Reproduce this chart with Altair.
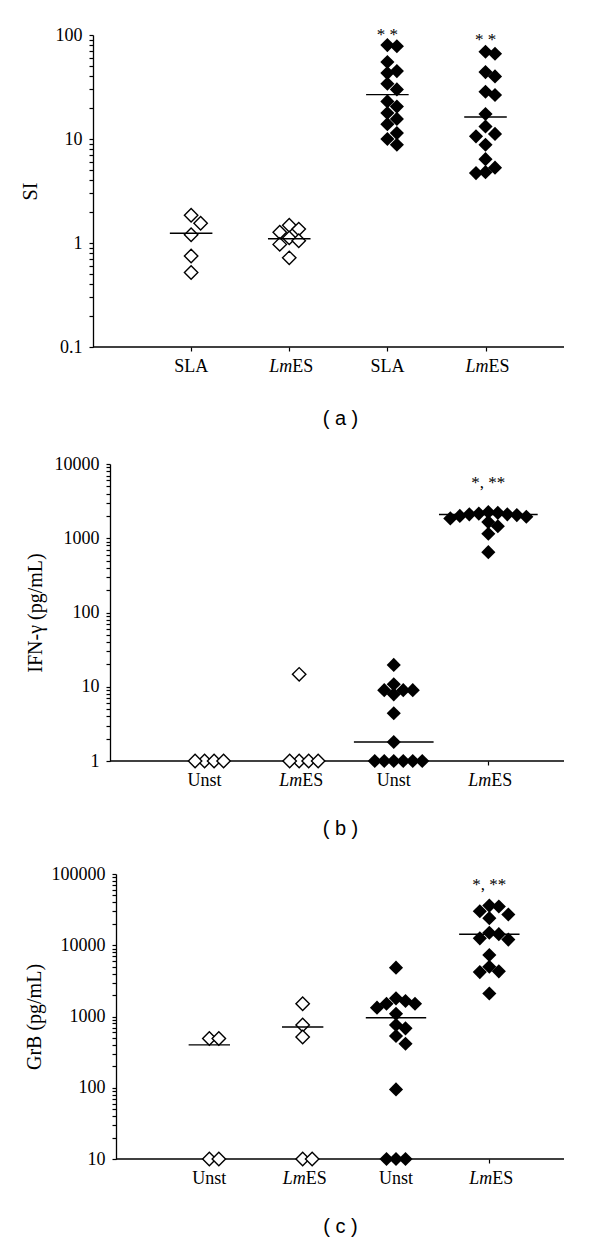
import math
import altair as alt
import pandas as pd

# ---------------- data ----------------
XMAX = 4.8
filled_groups = [False, False, True, True]

# Panel (a): SI
a_categories = ["SLA", "LmES", "SLA", "LmES"]
a_g1 = [1.85, 1.55, 1.2, 0.75, 0.52]
a_g2 = [1.48, 1.36, 1.27, 1.12, 1.05, 0.97, 0.72]
a_g3 = [80, 78, 55, 45, 43, 34, 30, 23, 20.5, 17.8, 15.6, 13.9, 11.4, 10, 8.8]
a_g4 = [69, 66, 44, 40, 28.5, 26.5, 17.4, 13.2, 11.2, 10.6, 8.8, 6.4, 5.3, 4.8, 4.7]
a_medians = [1.24, 1.1, 26.7, 16.3]
a_stars = ["", "", "* *", "* *"]
a_star_values = [None, None, 100, 90]

# Panel (b): IFN-gamma
b_categories = ["Unst", "LmES", "Unst", "LmES"]
b_g1 = [1, 1, 1, 1]
b_g2 = [14.7, 1, 1, 1, 1]
b_g3 = [19.7, 10.8, 9.0, 9.0, 9.0, 7.9, 4.4, 1.8, 1, 1, 1, 1, 1, 1]
b_g4 = [2250, 2200, 2150, 2100, 2100, 2050, 2000, 1950, 1850, 1650, 1450, 1150, 650]
b_medians = [None, None, 1.8, 2090]
b_stars = ["", "", "", "*, **"]
b_star_values = [None, None, None, 5600]

# Panel (c): GrB
c_categories = ["Unst", "LmES", "Unst", "LmES"]
c_g1 = [492, 492, 10, 10]
c_g2 = [1510, 760, 515, 10, 10]
c_g3 = [4850, 1800, 1650, 1510, 1510, 1330, 1090, 760, 682, 532, 414, 94.7, 10, 10, 10]
c_g4 = [36000, 35000, 30000, 27000, 24000, 15000, 14300, 12500, 12000, 7300, 5000, 4300, 4200, 2100]
c_medians = [400, 711, 962, 14300]
c_stars = ["", "", "", "*, **"]
c_star_values = [None, None, None, 71000]

SERIF = "Liberation Serif"
SANS = "Liberation Sans"
PLOT_W = 448          # common plot-area width (shared origin of the stacked panels)


def swarm_offsets(vals, ypix, step_px, min_dy=10):
    order = sorted(range(len(vals)), key=lambda i: -vals[i])
    cand = [0]
    for k in range(1, 15):
        cand += [k, -k]
    placed = []
    out = [0.0] * len(vals)
    for i in order:
        y = ypix(vals[i])
        x = 0
        for k in cand:
            x = k * step_px
            if all(abs(x - px) >= step_px * 0.5 or abs(y - py) >= min_dy for px, py in placed):
                break
        placed.append((x, y))
        out[i] = x
    return out


def log_ticks(lo, hi):
    vals = []
    for k in range(int(round(math.log10(lo))), int(round(math.log10(hi)))):
        for m in range(1, 10):
            vals.append(round(m * 10 ** k, 6))
    vals.append(hi)
    return vals


def panel(groups, cats, medians, stars, star_vals, domain, height,
          ytitle, ptitle, title_pad, ptitle_pad, axis_shift):
    # axis_shift: how far (px) the y-axis sits left of the shared plot origin
    ppu = (PLOT_W + axis_shift) / XMAX
    x_start = axis_shift / ppu
    ppd = height / math.log10(domain[1] / domain[0])
    step_px = 9.5
    pts, meds = [], []
    for gi, vals in enumerate(groups):
        offs = swarm_offsets(vals, lambda v: math.log10(v) * ppd, step_px)
        offs_u = [o / ppu for o in offs]
        for v, o in zip(vals, offs_u):
            pts.append({"x": gi + 1 + o, "v": v, "filled": filled_groups[gi]})
        if medians[gi] is not None:
            half = max(0.21, max(abs(o) for o in offs_u) + 0.12)
            meds.append({"x1": gi + 1 - half, "x2": gi + 1 + half, "m": medians[gi]})
    pts = pd.DataFrame(pts)
    meds = pd.DataFrame(meds)

    lab_center, lab_it, lab_rest = [], [], []
    for gi, c in enumerate(cats):
        if c.startswith("Lm"):
            lab_it.append({"x": gi + 1, "t": "Lm"})
            lab_rest.append({"x": gi + 1, "t": c[2:]})
        else:
            lab_center.append({"x": gi + 1, "t": c})
    star_df = pd.DataFrame([{"x": gi + 1, "t": s, "y": sv}
                            for gi, (s, sv) in enumerate(zip(stars, star_vals)) if s])

    yscale = alt.Scale(type="log", domain=domain, nice=False)
    xscale = alt.Scale(domain=[x_start, XMAX], nice=False, zero=False)

    xaxis = alt.Axis(values=[1, 2, 3, 4], labels=False, tickSize=4, domain=False,
                     title=ptitle, titleFont=SANS, titleFontSize=20,
                     titleFontWeight="normal", titlePadding=ptitle_pad)
    yaxis = alt.Axis(values=log_ticks(domain[0], domain[1]), tickSize=4,
                     labelExpr="abs(log(datum.value)/LN10 - round(log(datum.value)/LN10)) < 0.001 ? format(datum.value, '~r') : ''",
                     labelOverlap=False, labelPadding=7, titlePadding=title_pad,
                     offset=axis_shift, title=ytitle)

    def X(field):
        return alt.X(field, scale=xscale, axis=xaxis)

    def Y(field):
        return alt.Y(field, scale=yscale, axis=yaxis)

    ybase = alt.YDatum(domain[0], scale=yscale, axis=yaxis)

    baseline = alt.Chart(pd.DataFrame({"a": [0.0], "b": [XMAX]})).mark_rule(
        color="black", strokeWidth=1.3
    ).encode(x=X("a:Q"), x2="b:Q", y=ybase)
    open_pts = alt.Chart(pts).transform_filter("!datum.filled").mark_point(
        shape="diamond", filled=True, fill="white", stroke="black",
        strokeWidth=1.4, size=180, opacity=1
    ).encode(x=X("x:Q"), y=Y("v:Q"))
    fill_pts = alt.Chart(pts).transform_filter("datum.filled").mark_point(
        shape="diamond", filled=True, color="black", size=200, opacity=1
    ).encode(x=X("x:Q"), y=Y("v:Q"))
    rules = alt.Chart(meds).mark_rule(color="black", strokeWidth=1.4).encode(
        x=X("x1:Q"), x2="x2:Q", y=Y("m:Q"))
    star_txt = alt.Chart(star_df).mark_text(
        font=SERIF, fontSize=17, color="black", baseline="middle"
    ).encode(x=X("x:Q"), y=Y("y:Q"), text="t:N")

    layers = [baseline, open_pts, fill_pts, rules, star_txt]
    if lab_center:
        layers.append(alt.Chart(pd.DataFrame(lab_center)).mark_text(
            font=SERIF, fontSize=18, color="black", baseline="middle", align="center", dy=20
        ).encode(x=X("x:Q"), y=ybase, text="t:N"))
    if lab_it:
        layers.append(alt.Chart(pd.DataFrame(lab_it)).mark_text(
            font=SERIF, fontSize=18, fontStyle="italic", color="black",
            baseline="middle", align="right", dy=20, dx=3
        ).encode(x=X("x:Q"), y=ybase, text="t:N"))
        layers.append(alt.Chart(pd.DataFrame(lab_rest)).mark_text(
            font=SERIF, fontSize=18, color="black",
            baseline="middle", align="left", dy=20, dx=3
        ).encode(x=X("x:Q"), y=ybase, text="t:N"))
    return alt.layer(*layers).properties(width=PLOT_W, height=height)


pa = panel([a_g1, a_g2, a_g3, a_g4], a_categories, a_medians, a_stars, a_star_values,
           [0.1, 100], 312, "SI", "( a )", 15, 57, 23)
pb = panel([b_g1, b_g2, b_g3, b_g4], b_categories, b_medians, b_stars, b_star_values,
           [1, 10000], 297, "IFN-γ (pg/mL)", "( b )", 9, 53, 6)
pc = panel([c_g1, c_g2, c_g3, c_g4], c_categories, c_medians, c_stars, c_star_values,
           [10, 100000], 285, "GrB (pg/mL)", "( c )", 7, 53, 0)

chart = alt.vconcat(pa, pb, pc, spacing=26).properties(
    padding={"left": 12, "top": 18, "right": 5, "bottom": 0}
).configure_view(stroke=None).configure_axis(
    grid=False, domainColor="black", tickColor="black", labelColor="black",
    titleColor="black", domainWidth=1.3, tickWidth=1.2,
    labelFont=SERIF, labelFontSize=18, titleFont=SERIF, titleFontSize=20,
    titleFontWeight="normal"
)

chart.save("out.html", embed_options={"renderer": "svg", "actions": False})
